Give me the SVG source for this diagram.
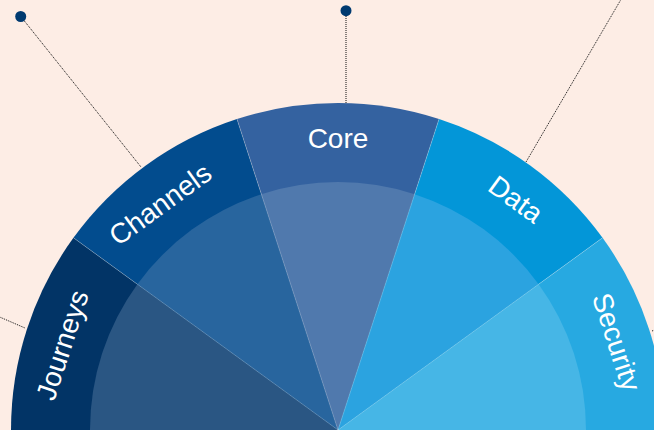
<svg xmlns="http://www.w3.org/2000/svg" width="654" height="430" viewBox="0 0 654 430">
<style>
.lbl{font-family:"Liberation Sans",Arial,sans-serif;font-size:28px;fill:#ffffff;text-anchor:middle}
.sep{stroke:#ffffff;stroke-opacity:0.35;stroke-width:0.7;fill:none}
.lead{stroke:#111111;stroke-width:1;stroke-dasharray:1 1;fill:none}
.dot{fill:#003a70}
</style>
<rect x="0" y="0" width="654" height="430" fill="#fdede5"/>
<g id="journeys">
<path d="M338,430 L11,430 A327,327 0 0 1 73.45,237.79 Z" fill="#023466"/>
<path d="M338,430 L90,430 A248,248 0 0 1 137.36,284.23 Z" fill="#2a5683"/>
<text class="lbl" transform="translate(62,345) rotate(-72)" x="0" y="10">Journeys</text>
</g>
<g id="channels">
<path d="M338,430 L73.45,237.79 A327,327 0 0 1 236.95,119 Z" fill="#024c8e"/>
<path d="M338,430 L137.36,284.23 A248,248 0 0 1 261.36,194.13 Z" fill="#28659e"/>
<text class="lbl" transform="translate(160,204) rotate(-36)" x="0" y="10">Channels</text>
</g>
<g id="core">
<path d="M338,430 L236.95,119 A327,327 0 0 1 439.05,119 Z" fill="#3462a0"/>
<path d="M338,430 L261.36,194.13 A248,248 0 0 1 414.64,194.13 Z" fill="#5079ad"/>
<text class="lbl" x="338" y="148">Core</text>
</g>
<g id="data">
<path d="M338,430 L439.05,119 A327,327 0 0 1 602.55,237.79 Z" fill="#0396d8"/>
<path d="M338,430 L414.64,194.13 A248,248 0 0 1 538.64,284.23 Z" fill="#2ba3e0"/>
<text class="lbl" transform="translate(516,199) rotate(36)" x="0" y="10">Data</text>
</g>
<g id="security">
<path d="M338,430 L602.55,237.79 A327,327 0 0 1 665,430 Z" fill="#27a9e1"/>
<path d="M338,430 L538.64,284.23 A248,248 0 0 1 586,430 Z" fill="#46b6e6"/>
<text class="lbl" transform="translate(617,342) rotate(72)" x="0" y="10">Security</text>
</g>
<g id="separators">
<line class="sep" x1="338" y1="430" x2="73.45" y2="237.79"/>
<line class="sep" x1="338" y1="430" x2="236.95" y2="119"/>
<line class="sep" x1="338" y1="430" x2="439.05" y2="119"/>
<line class="sep" x1="338" y1="430" x2="602.55" y2="237.79"/>
</g>
<g id="connectors">
<line class="lead" x1="-5" y1="315" x2="25" y2="328"/>
<line class="lead" x1="22" y1="18" x2="141" y2="167"/>
<line class="lead" x1="346" y1="12" x2="346" y2="103"/>
<line class="lead" x1="526" y1="162" x2="630" y2="-16"/>
<line class="lead" x1="652" y1="331" x2="662" y2="327"/>
<circle class="dot" cx="20.7" cy="16.5" r="5.5"/>
<circle class="dot" cx="346" cy="10.7" r="5.5"/>
</g>
</svg>
